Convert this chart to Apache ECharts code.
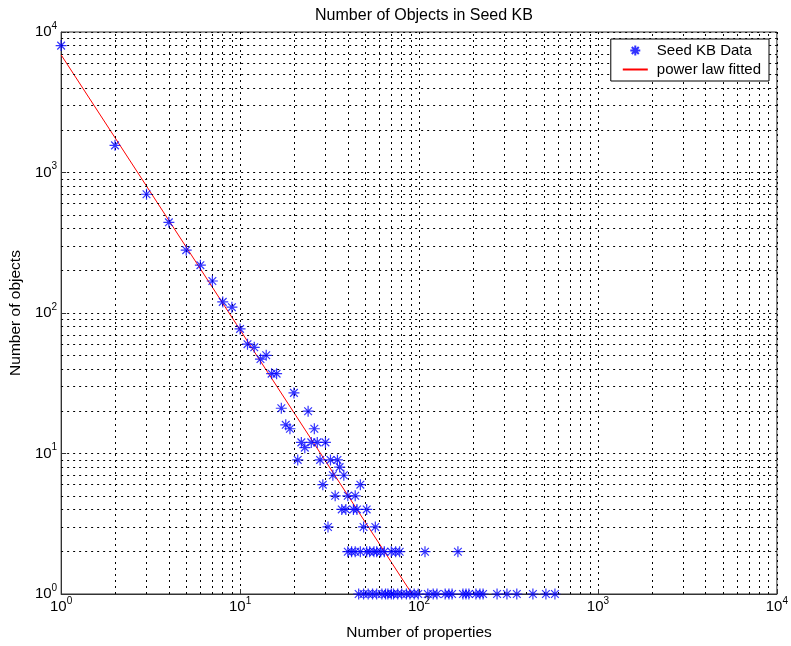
<!DOCTYPE html>
<html lang="en">
<head>
    <meta charset="UTF-8">
    <script src="https://cdn.jsdelivr.net/npm/echarts@6/dist/echarts.min.js"></script>
    <style>
        html, body { margin: 0; padding: 0; background: #fff; }
    </style>
</head>
<body>
<div id="chart" style="width: 791px;height: 646px"></div>
</body>

<script>
    // Seed KB data: number of properties -> number of objects
    var seedProps = [1, 2, 3, 4, 5, 6, 7, 8, 9, 10, 11, 12, 13, 14, 15, 16, 17, 18, 19, 20,
        21, 22, 23, 24, 25, 26, 27, 28, 29, 30, 31, 32, 33, 34, 35, 36, 37, 38, 39, 40,
        43, 44, 45, 47, 49, 51, 57,
        40, 42, 44, 47, 51, 53, 56, 58, 61, 64, 70, 74, 78, 108, 165,
        46, 49, 52, 55, 58, 62, 65, 67, 70, 72, 76, 80, 85, 89, 94, 99, 112, 120, 126,
        140, 147, 153, 176, 183, 190, 208, 219, 228, 273, 310, 352, 433, 512, 575, 4680];
    var seedCounts = [8000, 1560, 700, 442, 280, 219, 169, 120, 110, 77, 60, 57, 47, 50, 37, 37, 21, 16, 15, 27,
        9, 12, 11, 20, 12, 15, 12, 9, 6, 12, 3, 9, 7, 5, 9, 8, 4, 7, 4, 5,
        4, 5, 4, 6, 3, 4, 3,
        2, 2, 2, 2, 2, 2, 2, 2, 2, 2, 2, 2, 2, 2, 2,
        1, 1, 1, 1, 1, 1, 1, 1, 1, 1, 1, 1, 1, 1, 1, 1, 1, 1, 1,
        1, 1, 1, 1, 1, 1, 1, 1, 1, 1, 1, 1, 1, 1, 1];

    // power law fit, end points
    var fitProps = [1, 91.4];
    var fitCounts = [6870, 1];

    var decades = [1, 10, 100, 1000];

    let chart = echarts.init(document.getElementById('chart'));

    var seedData = seedProps.map(function (p, i) { return [p, seedCounts[i]]; });
    var fitData = fitProps.map(function (p, i) { return [p, fitCounts[i]]; });

    // minor grid lines at 2..9 of every decade
    var minorLines = [];
    decades.forEach(function (d) {
        for (let k = 2; k <= 9; k++) {
            minorLines.push({xAxis: d * k});
            minorLines.push({yAxis: d * k});
        }
    });

    var star = 'path://M0,-5L0,5M-5,0L5,0M-3.5,-3.5L3.5,3.5M-3.5,3.5L3.5,-3.5';
    var font = 'Liberation Sans';
    var dotted = [2, 4];

    function powLabel(v) {
        return '{b|10}{s|' + Math.round(Math.log10(v)) + '}';
    }
    var labelRich = {
        b: {fontSize: 15, fontFamily: font, color: '#000', lineHeight: 18},
        s: {fontSize: 10, fontFamily: font, color: '#000', lineHeight: 18, padding: [0, 0, 12, 0]}
    };

    option = {
        animation: false,
        title: {
            text: 'Number of Objects in Seed KB',
            left: 419,
            top: 3,
            textAlign: 'center',
            textStyle: {fontFamily: font, fontSize: 16, fontWeight: 'normal', color: '#000'}
        },
        legend: {
            data: [
                {name: 'Seed KB Data'},
                {name: 'power law fitted', itemStyle: {opacity: 0}}
            ],
            orient: 'vertical',
            right: 22,
            top: 39,
            z: 20,
            padding: [3, 8, 3, 11],
            itemGap: 2,
            itemWidth: 25,
            itemHeight: 10,
            backgroundColor: '#fff',
            borderColor: '#000',
            borderWidth: 1,
            borderRadius: 0,
            textStyle: {fontFamily: font, fontSize: 15, color: '#000', padding: [0, 0, 0, 4], lineHeight: 17}
        },
        grid: {
            left: 61,
            right: 14,
            top: 32,
            bottom: 50,
            show: true,
            borderColor: '#333',
            borderWidth: 1
        },
        xAxis: {
            type: 'log',
            logBase: 10,
            min: 1,
            max: 10000,
            name: 'Number of properties',
            nameLocation: 'middle',
            nameGap: 31,
            nameTextStyle: {fontFamily: font, fontSize: 15.5, color: '#000'},
            axisLine: {lineStyle: {color: '#333', width: 1}},
            axisTick: {inside: true, length: 5, lineStyle: {color: '#333'}},
            axisLabel: {formatter: powLabel, rich: labelRich, margin: 4},
            splitLine: {show: true, lineStyle: {color: '#000', type: dotted, width: 1}}
        },
        yAxis: {
            type: 'log',
            logBase: 10,
            min: 1,
            max: 10000,
            name: 'Number of objects',
            nameLocation: 'middle',
            nameGap: 35,
            nameTextStyle: {fontFamily: font, fontSize: 15.5, color: '#000'},
            axisLine: {lineStyle: {color: '#333', width: 1}},
            axisTick: {inside: true, length: 5, lineStyle: {color: '#333'}},
            axisLabel: {formatter: powLabel, rich: labelRich, margin: 4},
            splitLine: {show: true, lineStyle: {color: '#000', type: dotted, width: 1}}
        },
        series: [
            {
                name: 'grid',
                type: 'line',
                data: [],
                silent: true,
                z: 1,
                markLine: {
                    silent: true,
                    symbol: 'none',
                    label: {show: false},
                    lineStyle: {color: '#000', type: dotted, width: 1},
                    emphasis: {disabled: true},
                    animation: false,
                    data: minorLines
                }
            },
            {
                name: 'Seed KB Data',
                type: 'scatter',
                data: seedData,
                symbol: star,
                symbolSize: 11,
                clip: false,
                z: 5,
                itemStyle: {color: 'transparent', borderColor: '#0000ff', borderWidth: 1.2}
            },
            {
                name: 'power law fitted',
                type: 'line',
                data: fitData,
                symbol: 'none',
                z: 4,
                lineStyle: {color: '#ff0000', width: 1},
                itemStyle: {color: '#ff0000'}
            }
        ]
    };

    chart.setOption(option);
</script>
</html>
